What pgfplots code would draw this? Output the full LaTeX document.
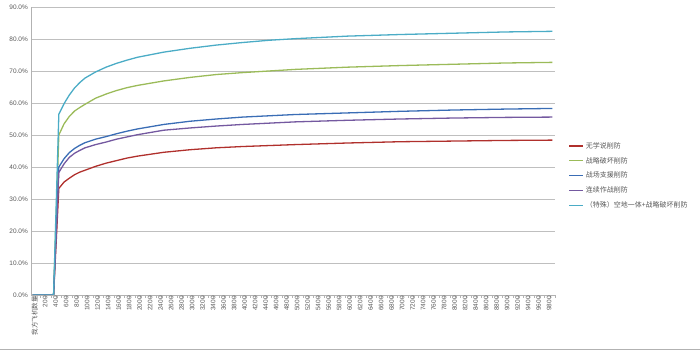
\documentclass[border=0pt]{standalone}
\usepackage{fontspec}
\setmainfont{Liberation Sans}
\newfontfamily\cjk{Noto Sans CJK SC}
\usepackage{pgfplots}
\usepackage{pgfplotstable}
\pgfplotsset{compat=1.18}
\definecolor{sred}{HTML}{B0302C}
\definecolor{sgreen}{HTML}{9BBB59}
\definecolor{sblue}{HTML}{3A6DB5}
\definecolor{spurple}{HTML}{7459A0}
\definecolor{scyan}{HTML}{4BACC6}
\definecolor{txt}{HTML}{595959}
\pgfplotstableread{
x a b c d e
0 0 0 0 0 0
100 0 0 0 0 0
200 0 0 0 0 0
300 0 0 0 0 0
400 0 0 0 0 0
500 33.3 50.0 40.0 38.3 56.5
600 35.3 53.5 42.6 41.0 59.8
700 36.5 55.8 44.5 43.0 62.5
800 37.6 57.5 45.8 44.3 64.7
900 38.4 58.6 46.8 45.2 66.4
1000 39.0 59.6 47.6 46.0 67.8
1200 40.2 61.5 48.7 47.0 69.7
1400 41.2 62.8 49.5 47.8 71.2
1600 42.0 63.9 50.4 48.7 72.4
1800 42.8 64.8 51.2 49.4 73.4
2000 43.4 65.5 51.9 50.1 74.3
2500 44.6 66.9 53.3 51.5 75.9
3000 45.4 68.0 54.3 52.2 77.1
3500 46.0 68.9 55.0 52.8 78.1
4000 46.4 69.5 55.6 53.3 78.9
4500 46.7 70.0 56.0 53.7 79.6
5000 47.0 70.5 56.4 54.1 80.1
6000 47.5 71.2 56.9 54.6 80.9
7000 47.9 71.7 57.4 55.0 81.4
8000 48.1 72.1 57.8 55.3 81.8
9000 48.3 72.5 58.1 55.5 82.2
9900 48.4 72.7 58.3 55.6 82.4
}\data
\begin{document}
\begin{tikzpicture}
\useasboundingbox (-31bp,-56bp) rectangle (669bp,295bp);
\begin{axis}[
  at={(0,0)}, anchor=south west,
  scale only axis, width=524bp, height=288bp,
  xmin=-30, xmax=9950, ymin=0, ymax=90,
  axis x line*=bottom, axis y line*=left,
  axis line style={draw=gray!60, line width=0.6bp, -},
  ymajorgrids, grid style={gray!50, line width=0.6bp},
  ytick={0,10,...,90},
  yticklabel={\pgfmathprintnumber[fixed,fixed zerofill,precision=1]{\tick}\%},
  /pgf/number format/assume math mode=true,
  ytick style={draw=none},
  y tick label style={font=\fontsize{6.5}{7}\selectfont, text=txt, inner sep=1bp, xshift=-2bp},
  xtick={0,200,...,9800},
  xticklabels={{\cjk 我方飞机数量},200,400,600,800,1000,1200,1400,1600,1800,2000,2200,2400,2600,2800,3000,3200,3400,3600,3800,4000,4200,4400,4600,4800,5000,5200,5400,5600,5800,6000,6200,6400,6600,6800,7000,7200,7400,7600,7800,8000,8200,8400,8600,8800,9000,9200,9400,9600,9800},
  minor xtick={50,150,...,9950},
  tick align=outside,
  major tick length=0bp, minor tick length=3bp,
  xtick style={draw=gray!60, line width=0.5bp},
  x tick label style={rotate=90, anchor=east, font=\fontsize{6.5}{7}\selectfont, text=txt, inner sep=1bp, yshift=-2bp},
  legend style={at={(1.02,0.545)}, anchor=north west, draw=none, fill=none,
    font=\cjk\fontsize{7}{8}\selectfont, text=txt, row sep=3.5bp},
  legend cell align=left,
  legend image code/.code={\draw[#1, line width=1.3bp] (0bp,0bp) -- (14bp,0bp);},
  every axis plot/.append style={line width=1.3bp, no markers},
]
\addplot[sred] table[x=x,y=a]{\data};
\addlegendentry{无学说削防}
\addplot[sgreen] table[x=x,y=b]{\data};
\addlegendentry{战略破坏削防}
\addplot[sblue] table[x=x,y=c]{\data};
\addlegendentry{战场支援削防}
\addplot[spurple] table[x=x,y=d]{\data};
\addlegendentry{连续作战削防}
\addplot[scyan] table[x=x,y=e]{\data};
\addlegendentry{（特殊）空地一体+战略破坏削防}
\end{axis}
\draw[gray!60, line width=0.8bp] (-31bp,-54.5bp) -- (669bp,-54.5bp);
\end{tikzpicture}
\end{document}
